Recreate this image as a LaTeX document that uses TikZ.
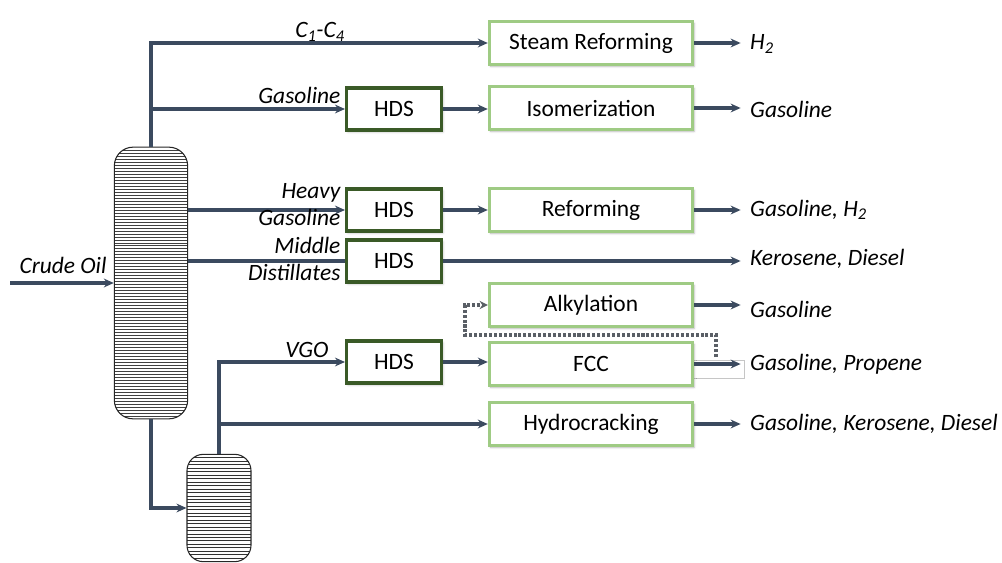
\documentclass[tikz,border=0pt]{standalone}
\usepackage{fontspec}
\setmainfont{Carlito}
\usetikzlibrary{arrows.meta,positioning,shadows.blur}
\definecolor{pipeStroke}{HTML}{3B4A5F}
\definecolor{unitStroke}{HTML}{9FCB84}
\definecolor{hdsStroke}{HTML}{3A5A27}
\definecolor{recycleStroke}{HTML}{5A5F66}

\begin{document}
\begin{tikzpicture}[
  x=0.03cm,y=-0.03cm,
  font=\fontsize{20}{23}\selectfont,>={Stealth[length=8.5pt,width=7.5pt]},
  unit/.style={rectangle,draw=unitStroke,line width=2.6pt,fill=white,minimum width=6.1cm,minimum height=1.28cm,inner sep=0pt,blur shadow={shadow xshift=1.2pt,shadow yshift=-1.6pt,shadow blur steps=4,shadow opacity=30}},
  hds/.style={rectangle,draw=hdsStroke,line width=2.6pt,fill=white,minimum width=2.85cm,minimum height=1.26cm,inner sep=0pt,blur shadow={shadow xshift=1.2pt,shadow yshift=-1.6pt,shadow blur steps=4,shadow opacity=30}},
  column/.style={rectangle,draw=black!85,line width=0.9pt,fill=white,rounded corners=#1,inner sep=0pt},
  pipe/.style={->,line width=3.2pt,draw=pipeStroke},
  feedline/.style={line width=3.2pt,draw=pipeStroke},
  recycle/.style={->,line width=3pt,dash pattern=on 2.6pt off 1.6pt,draw=recycleStroke,>={Stealth[length=7pt,width=7pt]}},
  stream/.style={font=\fontsize{20}{23}\selectfont\itshape,inner sep=2pt},
  product/.style={font=\fontsize{20}{23}\selectfont\itshape,anchor=west,inner sep=0pt}
]
\useasboundingbox (0,0) rectangle (1002,563);
% distillation columns
\node[column=16pt,minimum width=2.2cm,minimum height=8.15cm,
  path picture={\foreach \k in {1,...,96}{\draw[black!75,line width=0.45pt]
    ([yshift=-\k*2.55pt]path picture bounding box.north west) -- ([yshift=-\k*2.55pt]path picture bounding box.north east);}}]
  (atm) at (151,283) {};
\node[column=14pt,minimum width=1.92cm,minimum height=3.22cm,
  path picture={\foreach \k in {1,...,30}{\draw[black!80,line width=0.5pt]
    ([yshift=-\k*2.95pt]path picture bounding box.north west) -- ([yshift=-\k*2.95pt]path picture bounding box.north east);}}]
  (vac) at (219,508) {};
% hydrotreaters
\node[hds] (hdsA) at (394,109) {HDS};
\node[hds] (hdsB) at (394,210) {HDS};
\node[hds] (hdsC) at (394,261) {HDS};
\node[hds] (hdsD) at (394,362) {HDS};
% conversion units
\draw[gray!45,line width=0.6pt] (690,360) rectangle (744,378);
\node[unit] (steam) at (591,43) {Steam Reforming};
\node[unit] (isom) at (591,108) {Isomerization};
\node[unit] (reform) at (591,210) {Reforming};
\node[unit] (alky) at (591,305) {Alkylation};
\node[unit] (fcc) at (591,364) {FCC};
\node[unit] (hcr) at (591,424) {Hydrocracking};
% products
\node[product] (pH) at (750,44) {H\textsubscript{2}};
\node[product] (pIsom) at (750,109) {Gasoline};
\node[product] (pRef) at (750,210) {Gasoline, H\textsubscript{2}};
\node[product] (pKer) at (750,259) {Kerosene, Diesel};
\node[product] (pAlk) at (750,309) {Gasoline};
\node[product] (pFcc) at (750,364) {Gasoline, Propene};
\node[product] (pHcr) at (750,424) {Gasoline, Kerosene, Diesel};
% feed
\coordinate (feed) at (10,283);
\node[stream] (crude) at (63,265) {Crude Oil};
\draw[pipe] (feed) -- (feed -| atm.west);
% column draws
\draw[pipe] (atm.north) |- (steam.west);
\draw[pipe] (atm.north |- hdsA.west) -- (hdsA.west);
\draw[pipe] (atm.east |- hdsB.west) -- (hdsB.west);
\draw[feedline] (atm.east |- hdsC.west) -- (hdsC.west);
\draw[pipe] (atm.south) |- (vac.west);
\draw[pipe] (vac.north) |- (hdsD.west);
\draw[pipe] (vac.north |- hcr.west) -- (hcr.west);
\node[stream,anchor=south] (lC) at (320,44) {C\textsubscript{1}-C\textsubscript{4}};
\node[stream,anchor=south east] (lGas) at (343,106) {Gasoline};
\node[stream,anchor=east,align=right] (lHeavy) at (343,205) {Heavy\\Gasoline};
\node[stream,anchor=east,align=right] (lMid) at (343,259) {Middle\\Distillates};
\node[stream] (lVgo) at (307,350) {VGO};
% unit links
\draw[pipe] (hdsA.east) -- (hdsA.east -| isom.west);
\draw[pipe] (hdsB.east) -- (reform.west);
\draw[pipe] (hdsC.east) -- ([xshift=-8]pKer.west |- hdsC.east);
\draw[pipe] (hdsD.east) -- (hdsD.east -| fcc.west);
\draw[pipe] (steam.east) -- ([xshift=-8]pH.west |- steam.east);
\draw[pipe] (isom.east) -- ([xshift=-8]pIsom.west |- isom.east);
\draw[pipe] (reform.east) -- ([xshift=-8]pRef.west);
\draw[pipe] (alky.east) -- ([xshift=-8]pAlk.west |- alky.east);
\draw[pipe] (fcc.east) -- ([xshift=-8]pFcc.west);
\draw[pipe] (hcr.east) -- ([xshift=-8]pHcr.west);
% olefin recycle to alkylation
\coordinate (tap) at (716,357);
\coordinate (bend) at (465,335);
\draw[recycle] (tap) |- (bend) |- (alky.west);
\end{tikzpicture}
\end{document}
